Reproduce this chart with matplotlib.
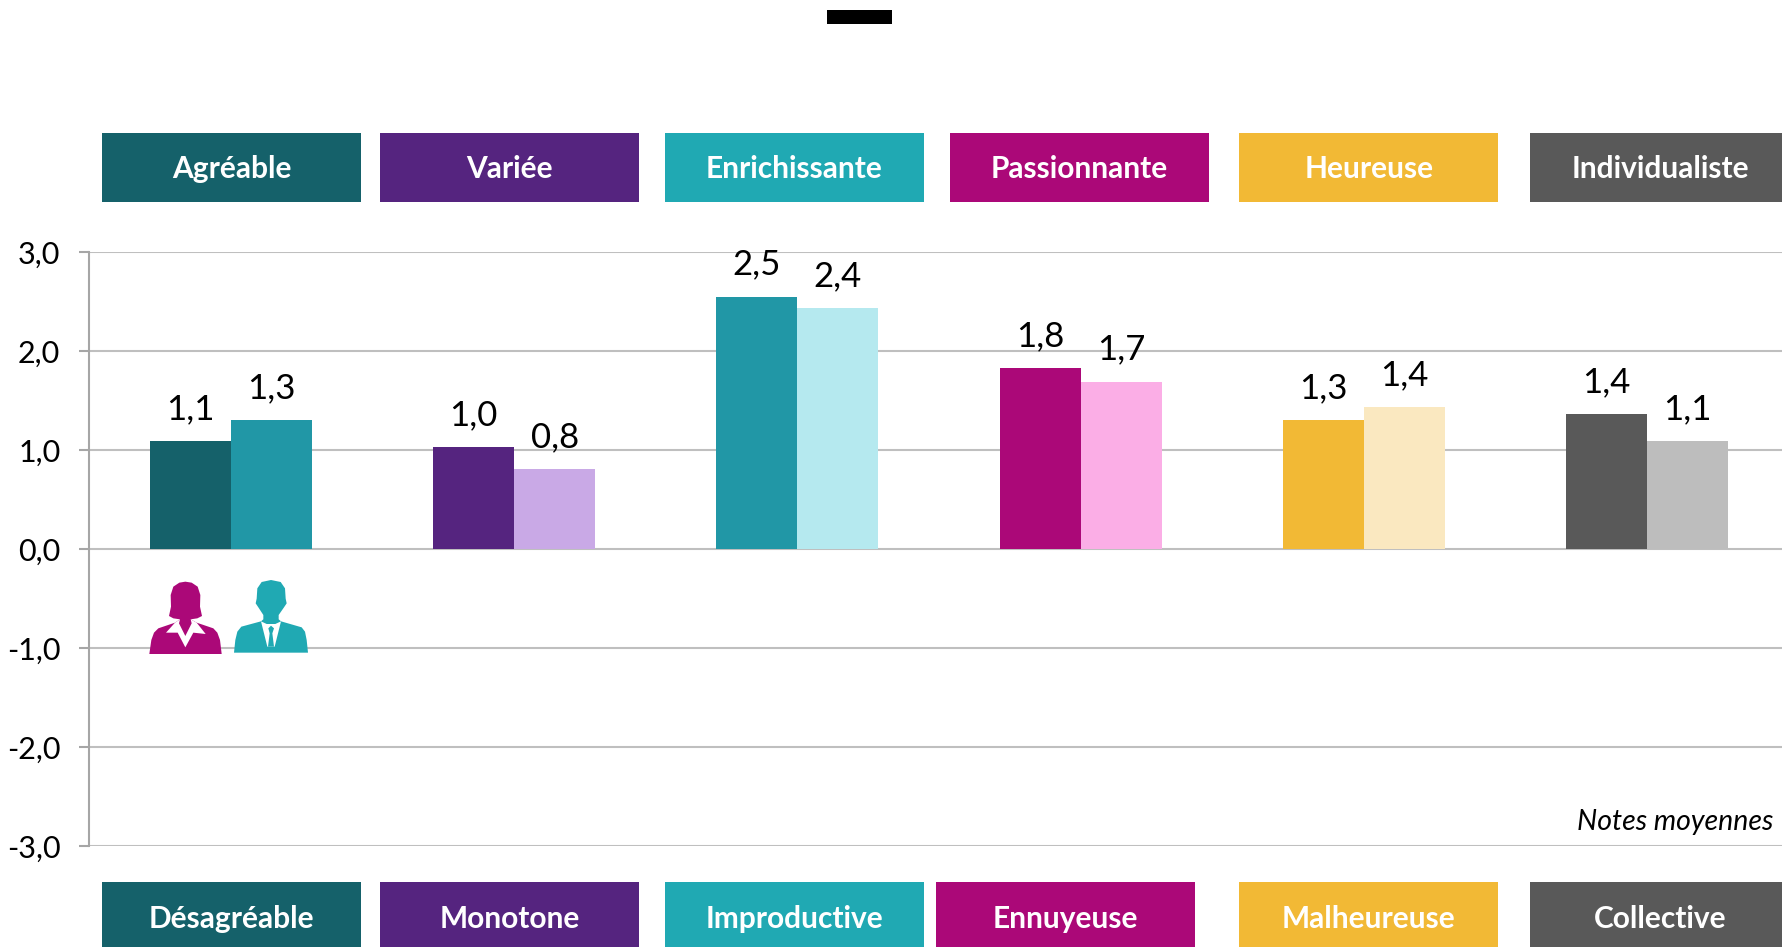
import matplotlib
matplotlib.use("Agg")
import matplotlib.pyplot as plt
import matplotlib.patches as patches

plt.rcParams['font.family'] = ['Lato', 'DejaVu Sans']

W, H = 1783, 947

# data
top_labels = ["Agréable", "Variée", "Enrichissante", "Passionnante", "Heureuse", "Individualiste"]
bottom_labels = ["Désagréable", "Monotone", "Improductive", "Ennuyeuse", "Malheureuse", "Collective"]
femmes = [1.09, 1.03, 2.55, 1.83, 1.30, 1.36]
hommes = [1.30, 0.81, 2.43, 1.69, 1.43, 1.09]
femmes_txt = ["1,1", "1,0", "2,5", "1,8", "1,3", "1,4"]
hommes_txt = ["1,3", "0,8", "2,4", "1,7", "1,4", "1,1"]
yticks = [3, 2, 1, 0, -1, -2, -3]
ytick_labels = ["3,0", "2,0", "1,0", "0,0", "-1,0", "-2,0", "-3,0"]

# styles
dark = ["#15616A", "#55247F", "#2197A6", "#AB0878", "#F2B935", "#595959"]
light = ["#2197A6", "#C9A9E6", "#B5E9EF", "#FBAEE6", "#FAE8C0", "#BDBDBD"]
box_col = ["#15616A", "#55247F", "#20A9B3", "#AB0878", "#F2B935", "#595959"]
top_x = [102, 380, 665, 950, 1239.5, 1530.5]
bottom_x = [102, 380, 665, 936, 1239.5, 1530.5]
box_w = 259
WOMAN = "#AB0878"
MAN = "#20A9B3"

fig = plt.figure(figsize=(W / 100, H / 100), dpi=100, facecolor="white")

# the plot runs past the right edge of the picture, like the original
left, right, top, bottom = 89.5, 1788.5, 252, 846
ax = fig.add_axes([left / W, 1 - bottom / H, (right - left) / W, (bottom - top) / H])
ax.set_xlim(-0.5, 5.5)
ax.set_ylim(-3, 3)
ax.set_axisbelow(True)
ax.yaxis.grid(True, color="#BFBFBF", lw=1.5)
ax.xaxis.set_visible(False)
ax.set_yticks(yticks)
ax.set_yticklabels(ytick_labels, fontsize=22)
ax.tick_params(axis="y", length=7, width=1.5, color="#A6A6A6", pad=14)
for s in ["top", "right", "bottom"]:
    ax.spines[s].set_visible(False)
ax.spines["left"].set_color("#A6A6A6")
ax.spines["left"].set_linewidth(1.5)

bw = 0.286
pos = list(range(len(femmes)))
ax.bar([p - bw / 2 for p in pos], femmes, bw, color=dark, zorder=3)
ax.bar([p + bw / 2 for p in pos], hommes, bw, color=light, zorder=3)
for p, v, t in zip(pos, femmes, femmes_txt):
    ax.annotate(t, (p - bw / 2, v), xytext=(0, 11.5), textcoords="offset points",
                ha="center", va="bottom", fontsize=25)
for p, v, t in zip(pos, hommes, hommes_txt):
    ax.annotate(t, (p + bw / 2, v), xytext=(0, 11.5), textcoords="offset points",
                ha="center", va="bottom", fontsize=25)

# overlay in pixels for the boxes and the pictograms
ov = fig.add_axes([0, 0, 1, 1])
ov.set_xlim(0, W)
ov.set_ylim(H, 0)
ov.axis("off")
ov.patch.set_alpha(0)

ov.add_patch(patches.Rectangle((827, 10), 65, 14, color="black", lw=0))

for x, lab, c in zip(top_x, top_labels, box_col):
    ov.add_patch(patches.Rectangle((x, 133), box_w, 69, color=c, lw=0))
    ov.text(x + box_w / 2, 169, lab, color="white", fontsize=21.5, fontweight="bold",
            ha="center", va="center")
for x, lab, c in zip(bottom_x, bottom_labels, box_col):
    ov.add_patch(patches.Rectangle((x, 882), box_w, 65, color=c, lw=0))
    ov.text(x + box_w / 2, 919, lab, color="white", fontsize=21.5, fontweight="bold",
            ha="center", va="center")

ov.text(1773, 822, "Notes moyennes", fontsize=20.5, style="italic", ha="right", va="center")


# pictograms, outlines taken from a 3x crop of the original
def zp(points):
    return [(x / 3, 500 + y / 3) for x, y in points]


woman = [(448, 462), (454, 420), (462, 398), (475, 385), (525, 368), (540, 358), (520, 355), (507, 348),
         (513, 320), (512, 285), (520, 260), (538, 248), (556, 245), (575, 248), (593, 260), (601, 285),
         (600, 320), (606, 348), (592, 355), (572, 358), (590, 368), (640, 385), (652, 398), (660, 420), (665, 462)]
collar = [(525, 368), (498, 398), (533, 398), (556, 442), (580, 398), (617, 402), (590, 368), (572, 358),
          (575, 370), (556, 408), (537, 370), (540, 358)]
man = [(702, 458), (706, 420), (712, 395), (724, 380), (783, 364), (790, 358), (790, 345), (775, 322), (767, 310),
       (770, 296), (772, 265), (785, 246), (813, 240), (842, 246), (855, 265), (857, 296), (860, 310), (852, 322),
       (836, 345), (836, 358), (843, 364), (905, 382), (915, 395), (920, 420), (924, 458)]
shirt = [(783, 364), (802, 440), (824, 440), (843, 364), (826, 372), (800, 372)]
tie = [(805, 385), (813, 377), (822, 385), (817, 400), (822, 440), (804, 440), (809, 400)]

ov.add_patch(patches.Polygon(zp(woman), color=WOMAN, lw=0))
ov.add_patch(patches.Polygon(zp(collar), color="white", lw=0))
ov.add_patch(patches.Polygon(zp(man), color=MAN, lw=0))
ov.add_patch(patches.Polygon(zp(shirt), color="white", lw=0))
ov.add_patch(patches.Polygon(zp(tie), color=MAN, lw=0))

fig.savefig("out.png", dpi=100)
